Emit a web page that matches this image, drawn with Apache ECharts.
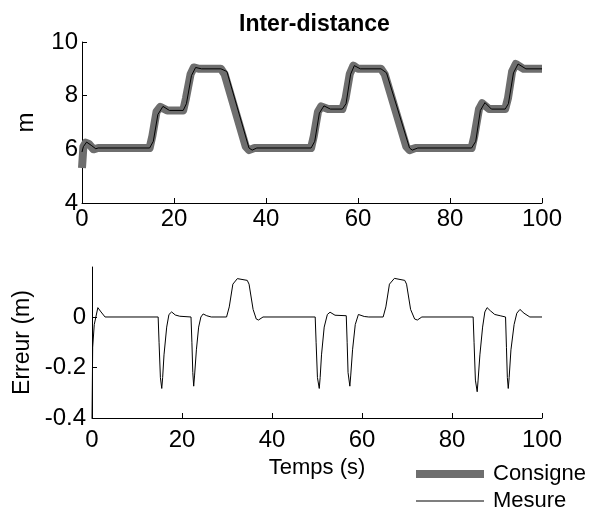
<!DOCTYPE html>
<html>
<head>
<meta charset="utf-8">
<script src="https://cdn.jsdelivr.net/npm/echarts@6/dist/echarts.min.js"></script>
<style>
    html, body { margin: 0; padding: 0; background: #fff; }
    #chart { width: 591px; height: 516px; }
</style>
</head>
<body>
<div id="chart"></div>
<script>
// Inter-distance (m): consigne vs mesure
const consigneT = [0, 0.3, 0.8, 1.5, 2.5, 3.5, 14.7, 15.3, 16.2, 17, 18.5, 22, 22.6, 23.6, 24.3, 25.5, 30.2, 31, 35.6, 36.3, 37.5,
    49.8, 50.4, 51.3, 52, 53.5, 56.6, 57.3, 58.2, 59, 60, 65, 65.8, 70.5, 71.2, 72.5,
    84.7, 85.3, 86.3, 87, 88.5, 92, 92.6, 93.5, 94.3, 96, 100]
const consigneV = [5.3, 6.1, 6.25, 6.2, 6.0, 6.05, 6.05, 6.5, 7.4, 7.58, 7.45, 7.45, 7.9, 8.8, 9.05, 9.0, 9.0, 8.8, 6.1, 5.97, 6.05,
    6.05, 6.5, 7.4, 7.6, 7.5, 7.5, 7.9, 8.8, 9.12, 9.0, 9.0, 8.8, 6.1, 5.97, 6.05,
    6.05, 6.5, 7.5, 7.72, 7.5, 7.5, 7.9, 8.9, 9.18, 9.0, 9.0]

const mesureT = [0, 0.3, 1.0, 2, 3, 3.5, 14.7, 15.5, 16.5, 17.6, 19, 22, 22.7, 23.8, 24.7, 26, 30.2, 31.5, 36.3, 37, 38,
    49.8, 50.6, 51.6, 52.6, 54, 56.6, 57.4, 58.4, 59.2, 60.5, 65, 66.2, 71.2, 71.8, 73,
    84.7, 85.6, 86.6, 87.6, 89, 92, 92.7, 93.8, 94.8, 96.5, 100]
const mesureV = [5.9, 6.1, 6.27, 6.15, 6.02, 6.05, 6.05, 6.3, 7.3, 7.6, 7.45, 7.45, 7.7, 8.75, 9.05, 9.0, 9.0, 8.9, 6.05, 5.97, 6.05,
    6.05, 6.3, 7.35, 7.62, 7.5, 7.5, 7.7, 8.8, 9.12, 9.0, 9.0, 8.85, 6.05, 5.97, 6.05,
    6.05, 6.3, 7.45, 7.74, 7.5, 7.5, 7.7, 8.85, 9.18, 9.0, 9.0]

// Erreur (m) = mesure - consigne
const erreurT = [0, 0.15, 0.5, 1.3, 2, 2.9, 14.7, 14.9, 15.2, 15.5, 15.7, 16.0, 16.6, 17.1, 17.7, 18.5, 19.5, 22, 22.2, 22.4, 22.6, 22.8, 23.2, 23.7, 24.2, 24.7, 25.5, 26.5,
    29.9, 30.5, 31.3, 32.3, 34.5, 34.9, 35.8, 36.5, 37, 38,
    49.6, 49.8, 50.1, 50.5, 50.7, 51.0, 51.6, 52.3, 52.9, 54, 56.5, 56.7, 56.9, 57.3, 57.5, 57.9, 58.5, 59.2, 60.5, 61.5,
    64.7, 65.3, 66.1, 67.2, 69.5, 69.9, 70.8, 71.7, 72.3, 73.3,
    84.7, 84.9, 85.2, 85.6, 85.8, 86.2, 86.8, 87.3, 87.8, 88.5, 89.5, 90.7, 91.9, 92.1, 92.3, 92.5, 92.7, 93.1, 93.8, 94.4, 95.1, 96, 97.3, 100]
const erreurV = [-0.4, -0.12, -0.03, 0.037, 0.02, 0, 0, -0.1, -0.24, -0.283, -0.24, -0.15, -0.04, 0.01, 0.02, 0.008, 0.003, 0, -0.1, -0.22, -0.274, -0.23, -0.13, -0.04, 0, 0.012, 0.005, 0,
    0, 0.04, 0.13, 0.152, 0.145, 0.13, 0.03, -0.008, -0.012, 0,
    0, -0.1, -0.24, -0.283, -0.24, -0.15, -0.04, 0.01, 0.019, 0.007, 0.005, -0.1, -0.22, -0.274, -0.23, -0.13, -0.03, 0.01, 0.002, 0,
    0, 0.04, 0.13, 0.153, 0.145, 0.13, 0.03, -0.008, -0.012, 0,
    0, -0.1, -0.25, -0.296, -0.25, -0.15, -0.04, 0.02, 0.037, 0.025, 0.01, 0.005, 0, -0.12, -0.24, -0.283, -0.24, -0.13, -0.03, 0.015, 0.03, 0.015, 0, 0]

const xTicks = [0, 20, 40, 60, 80, 100]
const topYTicks = [4, 6, 8, 10]
const bottomYTicks = [-0.4, -0.2, 0]

const zip = (xs, ys) => xs.map((x, i) => [x, ys[i]])

const FONT = '"Liberation Sans", Arial, sans-serif'
const axisLine = { show: true, onZero: false, lineStyle: { color: '#000', width: 1 } }
const axisTick = { show: true, inside: true, length: 5, lineStyle: { color: '#000' } }

const chart = echarts.init(document.getElementById('chart'), null, { renderer: 'canvas' })

chart.setOption({
    animation: false,
    backgroundColor: '#fff',
    title: {
        text: 'Inter-distance',
        left: 234,
        top: 8,
        textStyle: { fontFamily: FONT, fontSize: 23, fontWeight: 'bold', color: '#000' },
    },
    legend: [
        {
            data: ['Consigne'],
            left: 416,
            top: 463,
            padding: 0,
            icon: 'rect',
            itemWidth: 68,
            itemHeight: 8,
            textStyle: { fontFamily: FONT, fontSize: 22, color: '#000', padding: [0, 0, 0, 4] },
        },
        {
            data: ['Mesure'],
            left: 416,
            top: 490,
            padding: 0,
            icon: 'rect',
            itemWidth: 68,
            itemHeight: 1,
            textStyle: { fontFamily: FONT, fontSize: 22, color: '#000', padding: [0, 0, 0, 4] },
        },
    ],
    grid: [
        { left: 82, top: 42, width: 460, height: 161, outerBoundsMode: 'none' },
        { left: 92, top: 267, width: 450, height: 151, outerBoundsMode: 'none' },
    ],
    xAxis: [
        {
            gridIndex: 0,
            type: 'value',
            min: 0,
            max: 100,
            interval: 20,
            axisLine,
            axisTick: { ...axisTick, customValues: xTicks },
            splitLine: { show: false },
            axisLabel: { customValues: xTicks, margin: 4, fontFamily: FONT, fontSize: 24, color: '#000' },
        },
        {
            gridIndex: 1,
            type: 'value',
            min: 0,
            max: 100,
            interval: 20,
            name: 'Temps (s)',
            nameLocation: 'middle',
            nameGap: 39,
            nameTextStyle: { fontFamily: FONT, fontSize: 22, color: '#000' },
            axisLine,
            axisTick: { ...axisTick, customValues: xTicks },
            splitLine: { show: false },
            axisLabel: { customValues: xTicks, margin: 10, fontFamily: FONT, fontSize: 24, color: '#000' },
        },
    ],
    yAxis: [
        {
            gridIndex: 0,
            type: 'value',
            min: 4,
            max: 10,
            interval: 2,
            name: 'm',
            nameLocation: 'middle',
            nameGap: 44,
            nameTextStyle: { fontFamily: FONT, fontSize: 24, color: '#000' },
            axisLine,
            axisTick: { ...axisTick, customValues: topYTicks },
            splitLine: { show: false },
            axisLabel: { customValues: topYTicks, margin: 4, fontFamily: FONT, fontSize: 24, color: '#000' },
        },
        {
            gridIndex: 1,
            type: 'value',
            min: -0.4,
            max: 0.198,
            interval: 0.2,
            name: 'Erreur (m)',
            nameLocation: 'middle',
            nameGap: 58,
            nameTextStyle: { fontFamily: FONT, fontSize: 23, color: '#000' },
            axisLine,
            axisTick: { ...axisTick, customValues: bottomYTicks },
            splitLine: { show: false },
            axisLabel: { customValues: bottomYTicks, margin: 6, fontFamily: FONT, fontSize: 24, color: '#000' },
        },
    ],
    series: [
        {
            name: 'Consigne',
            type: 'line',
            xAxisIndex: 0,
            yAxisIndex: 0,
            data: zip(consigneT, consigneV),
            showSymbol: false,
            lineStyle: { color: '#6e6e6e', width: 8, join: 'round' },
            itemStyle: { color: '#6e6e6e' },
        },
        {
            name: 'Mesure',
            type: 'line',
            xAxisIndex: 0,
            yAxisIndex: 0,
            data: zip(mesureT, mesureV),
            showSymbol: false,
            lineStyle: { color: '#000', width: 1 },
            itemStyle: { color: '#000' },
        },
        {
            name: 'Erreur',
            type: 'line',
            xAxisIndex: 1,
            yAxisIndex: 1,
            data: zip(erreurT, erreurV),
            showSymbol: false,
            lineStyle: { color: '#000', width: 1 },
            itemStyle: { color: '#000' },
        },
    ],
})
</script>
</body>
</html>
